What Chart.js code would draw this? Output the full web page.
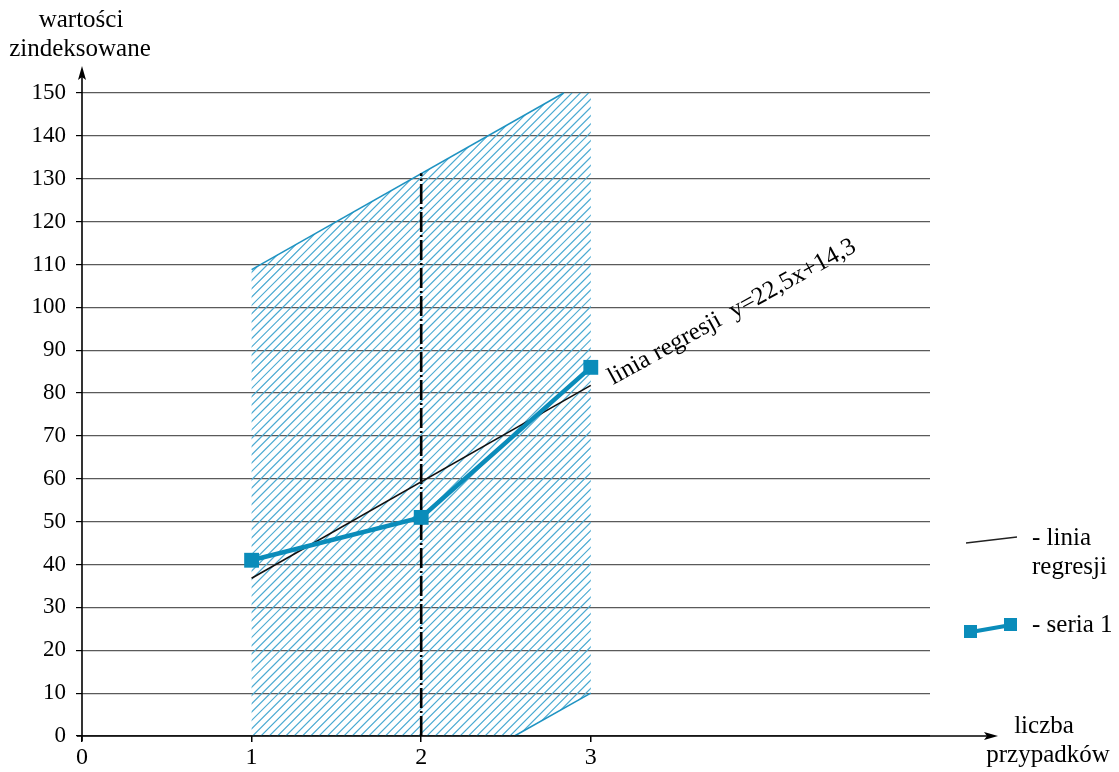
<!DOCTYPE html>
<html>
<head>
<meta charset="utf-8">
<script src="https://cdn.jsdelivr.net/npm/chart.js@4.4.0/dist/chart.umd.min.js"></script>
<style>
  html, body { margin: 0; padding: 0; background: #fff; }
  #wrap { width: 1119px; height: 772px; position: relative; }
</style>
</head>
<body>
<div id="wrap"><canvas id="c" width="1119" height="772"></canvas></div>
<script>
// Observed series
const caseNumbers = [1, 2, 3];
const seriesValues = [41, 51, 86];

// Regression line y = 22,5x + 14,3 at its two ends
const regressionX = [1, 3];
const regressionY = [36.8, 81.8];

// Hatched band (corners, clockwise from bottom-left)
const bandX = [1, 1, 2.84, 3, 3, 2.55];
const bandY = [0, 108.8, 150, 150, 10, 0];
// Visible slanted edges of the band
const bandTopX = [1, 2.84];
const bandTopY = [108.8, 150];
const bandBottomX = [2.55, 3];
const bandBottomY = [0, 10];

// Vertical dash-dot marker at x = 2
const markerX = [2, 2];
const markerY = [0, 131.3];

// Axis ticks
const xTickValues = [0, 1, 2, 3];
const yTickValues = [0, 10, 20, 30, 40, 50, 60, 70, 80, 90, 100, 110, 120, 130, 140, 150];

const SERIF = '"Liberation Serif", "DejaVu Serif", serif';
const SERIES_COLOR = '#0a8cba';
const HATCH_COLOR = '#4aaad2';

const toPoints = (xs, ys) => xs.map((x, i) => ({ x, y: ys[i] }));

const bandPlugin = {
  id: 'band',
  beforeDatasetsDraw(chart) {
    const { ctx, chartArea, scales } = chart;
    const xs = scales.x, ys = scales.y;
    const poly = bandX.map((x, i) => [xs.getPixelForValue(x), ys.getPixelForValue(bandY[i])]);
    ctx.save();
    ctx.beginPath();
    poly.forEach((p, i) => (i ? ctx.lineTo(p[0], p[1]) : ctx.moveTo(p[0], p[1])));
    ctx.closePath();
    ctx.clip();
    // diagonal hatching
    ctx.strokeStyle = HATCH_COLOR;
    ctx.lineWidth = 1.2;
    const h = chartArea.bottom - chartArea.top + 20;
    const x0 = xs.getPixelForValue(1) - h - 10;
    const x1 = xs.getPixelForValue(3) + 10;
    ctx.beginPath();
    for (let c = x0; c <= x1; c += 8.3) {
      ctx.moveTo(c, chartArea.bottom + 10);
      ctx.lineTo(c + h, chartArea.bottom + 10 - h);
    }
    ctx.stroke();
    ctx.restore();

    // slanted edges
    ctx.save();
    ctx.strokeStyle = '#1f93c2';
    ctx.lineWidth = 1.5;
    [[bandTopX, bandTopY], [bandBottomX, bandBottomY]].forEach(([ex, ey]) => {
      ctx.beginPath();
      ex.forEach((x, i) => {
        const px = xs.getPixelForValue(x), py = ys.getPixelForValue(ey[i]);
        i ? ctx.lineTo(px, py) : ctx.moveTo(px, py);
      });
      ctx.stroke();
    });
    ctx.restore();
  }
};

const decorPlugin = {
  id: 'decor',
  afterDraw(chart) {
    const { ctx, scales } = chart;
    const xs = scales.x, ys = scales.y;
    const ox = xs.getPixelForValue(0), oy = ys.getPixelForValue(0);
    ctx.save();
    ctx.strokeStyle = '#000';
    ctx.fillStyle = '#000';
    ctx.lineWidth = 1.6;
    // y axis with arrow
    ctx.beginPath();
    ctx.moveTo(ox, oy + 5);
    ctx.lineTo(ox, 70);
    ctx.stroke();
    ctx.beginPath();
    ctx.moveTo(ox, 66);
    ctx.lineTo(ox - 4, 80);
    ctx.lineTo(ox, 77);
    ctx.lineTo(ox + 4, 80);
    ctx.closePath();
    ctx.fill();
    // x axis with arrow
    ctx.beginPath();
    ctx.moveTo(ox - 5, oy);
    ctx.lineTo(994, oy);
    ctx.stroke();
    ctx.beginPath();
    ctx.moveTo(998, oy);
    ctx.lineTo(984, oy - 4);
    ctx.lineTo(987, oy);
    ctx.lineTo(984, oy + 4);
    ctx.closePath();
    ctx.fill();

    // axis titles
    ctx.font = '25px ' + SERIF;
    ctx.textAlign = 'center';
    ctx.textBaseline = 'alphabetic';
    ctx.fillText('wartości', 81, 27);
    ctx.fillText('zindeksowane', 80, 56);
    ctx.fillText('liczba', 1044, 733);
    ctx.fillText('przypadków', 1048, 762);

    // label along the regression line
    ctx.save();
    ctx.translate(613, 385);
    ctx.rotate(-28.8 * Math.PI / 180);
    ctx.font = '25px ' + SERIF;
    ctx.textAlign = 'left';
    ctx.fillText('linia regresji  y=22,5x+14,3', 0, 0);
    ctx.restore();

    // legend
    ctx.textAlign = 'left';
    ctx.font = '25px ' + SERIF;
    ctx.lineWidth = 1.5;
    ctx.strokeStyle = '#222';
    ctx.beginPath();
    ctx.moveTo(966, 543);
    ctx.lineTo(1017, 537);
    ctx.stroke();
    ctx.fillText('- linia', 1032, 545);
    ctx.fillText('regresji', 1032, 574);

    ctx.strokeStyle = SERIES_COLOR;
    ctx.fillStyle = SERIES_COLOR;
    ctx.lineWidth = 4;
    ctx.beginPath();
    ctx.moveTo(971, 632);
    ctx.lineTo(1011, 625);
    ctx.stroke();
    ctx.fillRect(964, 625, 13, 13);
    ctx.fillRect(1004, 618, 13, 13);
    ctx.fillStyle = '#000';
    ctx.fillText('- seria 1', 1032, 632);
    ctx.restore();
  }
};

new Chart(document.getElementById('c'), {
  type: 'scatter',
  data: {
    datasets: [
      {
        label: 'seria 1',
        data: toPoints(caseNumbers, seriesValues),
        showLine: true,
        borderColor: SERIES_COLOR,
        backgroundColor: SERIES_COLOR,
        borderWidth: 4.5,
        pointStyle: 'rect',
        pointRadius: 10.5,
        pointBorderWidth: 0,
        order: 0
      },
      {
        label: 'linia regresji',
        data: toPoints(regressionX, regressionY),
        showLine: true,
        borderColor: '#111',
        borderWidth: 1.6,
        pointRadius: 0,
        order: 1
      },
      {
        label: 'x = 2',
        data: toPoints(markerX, markerY),
        showLine: true,
        borderColor: '#000',
        borderWidth: 2.6,
        borderDash: [20, 3, 2, 3],
        pointRadius: 0,
        order: 2
      }
    ]
  },
  options: {
    responsive: false,
    animation: false,
    devicePixelRatio: 1,
    layout: { padding: { left: 0, right: 189, top: 93, bottom: 0 } },
    plugins: { legend: { display: false }, tooltip: { enabled: false } },
    scales: {
      x: {
        type: 'linear',
        min: 0,
        max: 5,
        afterBuildTicks: (s) => { s.ticks = xTickValues.map(v => ({ value: v })); },
        afterFit: (s) => { s.height = 36; },
        border: { display: false },
        grid: { drawOnChartArea: false, drawTicks: true, tickLength: 6, color: '#000', tickColor: '#000', lineWidth: 1.5 },
        ticks: { color: '#000', font: { family: SERIF, size: 24 }, padding: 1, maxRotation: 0 }
      },
      y: {
        type: 'linear',
        min: 0,
        max: 150,
        afterBuildTicks: (s) => { s.ticks = yTickValues.map(v => ({ value: v })); },
        afterFit: (s) => { s.width = 82; },
        border: { display: false },
        grid: { color: '#5a5a5a', lineWidth: 1.2, tickLength: 6, tickColor: '#000' },
        ticks: { color: '#000', font: { family: SERIF, size: 23 }, padding: 10 }
      }
    }
  },
  plugins: [bandPlugin, decorPlugin]
});
</script>
</body>
</html>
